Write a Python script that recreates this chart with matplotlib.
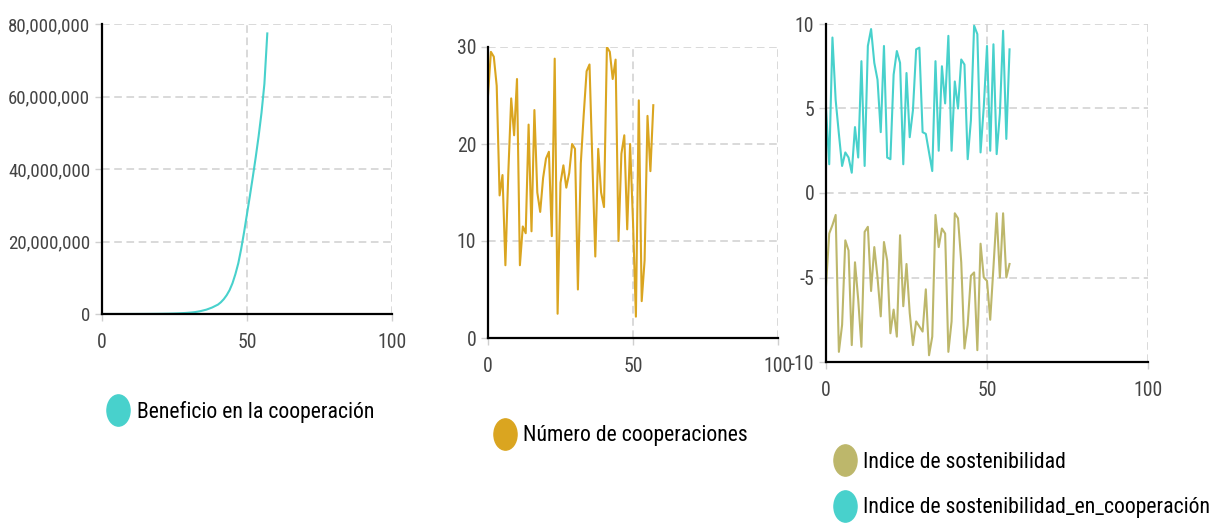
import numpy as np
import matplotlib
matplotlib.use("Agg")
import matplotlib.pyplot as plt
from matplotlib.lines import Line2D
from matplotlib.path import Path
from matplotlib.transforms import Affine2D
from matplotlib.ticker import FuncFormatter

plt.rcParams["font.family"] = ["Roboto Condensed", "Liberation Sans Narrow",
                               "Liberation Sans", "DejaVu Sans"]
plt.rcParams["axes.unicode_minus"] = False

# ── Datos de la simulación (58 pasos) ────────────────────────────────────────
pasos = np.arange(58)

# beneficio acumulado en millones
beneficio_mill = [
    0.001, 0.001, 0.002, 0.002, 0.003, 0.003, 0.004, 0.005, 0.006, 0.007,
    0.008, 0.010, 0.012, 0.015, 0.018, 0.022, 0.027, 0.033, 0.040, 0.048,
    0.058, 0.070, 0.085, 0.100, 0.120, 0.145, 0.175, 0.210, 0.250, 0.300,
    0.360, 0.430, 0.520, 0.650, 0.800, 1.000, 1.200, 1.500, 1.800, 2.200,
    2.600, 3.250, 4.100, 5.200, 6.600, 8.500, 11.00, 14.00, 18.00, 22.60,
    27.60, 32.60, 37.80, 43.20, 49.00, 55.50, 63.50, 77.40,
]

cooperaciones = [
    25.0, 29.5, 29.0, 26.0, 14.7, 16.8, 7.5, 17.0, 24.7, 20.9,
    26.7, 7.5, 11.5, 10.8, 22.0, 11.0, 23.5, 15.0, 13.0, 16.5,
    18.5, 19.2, 10.5, 28.8, 2.5, 16.0, 17.8, 15.5, 17.0, 20.0,
    19.5, 5.0, 18.0, 23.0, 27.5, 28.2, 18.0, 8.4, 19.5, 15.0,
    13.5, 30.0, 29.5, 26.7, 28.7, 10.0, 19.0, 20.9, 11.2, 20.0,
    12.0, 2.2, 24.5, 3.8, 8.0, 22.9, 17.2, 24.0,
]

sostenibilidad = [
    -5.5, -2.4, -1.9, -1.3, -9.4, -7.8, -2.8, -3.4, -9.0, -4.1,
    -6.3, -9.1, -2.3, -2.0, -5.8, -3.2, -5.0, -7.3, -2.9, -4.0,
    -8.3, -6.9, -8.5, -2.5, -6.7, -4.2, -7.1, -9.0, -7.6, -7.9,
    -8.2, -5.7, -9.6, -8.5, -1.3, -3.2, -2.1, -2.4, -9.4, -7.6,
    -1.2, -1.5, -4.1, -9.2, -7.8, -4.9, -4.7, -9.3, -3.0, -5.0,
    -5.2, -7.5, -4.4, -1.2, -5.0, -1.2, -5.0, -4.2,
]

sostenibilidad_coop = [
    5.0, 1.7, 9.2, 5.5, 3.5, 1.6, 2.4, 2.1, 1.2, 3.9,
    2.1, 7.8, 1.6, 8.7, 9.7, 7.7, 6.7, 3.6, 8.7, 2.1,
    2.0, 7.0, 8.4, 7.7, 1.7, 7.1, 3.3, 4.9, 8.5, 8.6,
    3.6, 3.5, 2.4, 1.3, 7.8, 2.5, 7.5, 5.3, 9.3, 2.5,
    6.6, 5.0, 7.9, 7.6, 2.0, 4.3, 9.9, 9.4, 2.4, 5.1,
    8.7, 2.5, 8.8, 2.3, 4.7, 9.6, 3.2, 8.5,
]

x_ticks = [0, 50, 100]
y_ticks_benef = [0, 20e6, 40e6, 60e6, 80e6]
y_ticks_coop = [0, 10, 20, 30]
y_ticks_sost = [-10, -5, 0, 5, 10]

COL_TEAL = "mediumturquoise"
COL_GOLD = "goldenrod"
COL_KHAKI = "darkkhaki"

# marcador de leyenda: elipse algo más alta que ancha
ELIPSE = Path.unit_circle().transformed(Affine2D().scale(0.74, 1.0))

W, H = 1222, 525
fig = plt.figure(figsize=(W / 100, H / 100), dpi=100)
fig.patch.set_facecolor("white")


def px_axes(x0, x1, y0, y1):
    """Axes a partir de coordenadas en píxeles (origen arriba a la izquierda)."""
    return fig.add_axes([x0 / W, 1 - y1 / H, (x1 - x0) / W, (y1 - y0) / H])


def estilo(ax, yticks):
    ax.set_xlim(0, 100)
    ax.set_ylim(yticks[0], yticks[-1])
    ax.set_xticks(x_ticks)
    ax.set_yticks(yticks)
    for s in ("top", "right"):
        ax.spines[s].set_visible(False)
    for s in ("left", "bottom"):
        ax.spines[s].set_linewidth(1.6)
        ax.spines[s].set_color("black")
    ax.grid(True, color="#cfcfcf", linestyle=(0, (5, 3)), linewidth=1.1)
    ax.set_axisbelow(True)
    ax.tick_params(length=5, width=1, color="#cfcfcf", labelcolor="#444444",
                   labelsize=14.2)
    ax.tick_params(axis="y", pad=3.5)
    ax.tick_params(axis="x", pad=9)


def leyenda(ax, colores, textos, x, y):
    handles = [Line2D([], [], linestyle="none", marker=ELIPSE, markersize=22.5,
                      color=c) for c in colores]
    ax.legend(handles, textos, loc="center left", bbox_to_anchor=(x / W, 1 - y / H),
              bbox_transform=fig.transFigure, frameon=False, fontsize=15.7,
              handlelength=1.0, handletextpad=0.34, borderpad=0, borderaxespad=0,
              labelspacing=1.12)


# ── Beneficio en la cooperación ──────────────────────────────────────────────
ax1 = px_axes(102, 392, 24, 314)
ax1.plot(pasos, np.array(beneficio_mill) * 1e6, color=COL_TEAL, lw=1.5)
estilo(ax1, y_ticks_benef)
ax1.yaxis.set_major_formatter(FuncFormatter(lambda v, _: f"{v:,.0f}"))
ax1.tick_params(axis="y", labelsize=13.6)
leyenda(ax1, [COL_TEAL], ["Beneficio en la cooperación"], 107.4, 412)

# ── Número de cooperaciones ──────────────────────────────────────────────────
ax2 = px_axes(488, 778, 47, 338)
ax2.plot(pasos, cooperaciones, color=COL_GOLD, lw=1.5)
estilo(ax2, y_ticks_coop)
leyenda(ax2, [COL_GOLD], ["Número de cooperaciones"], 493.8, 436)

# ── Índices de sostenibilidad ────────────────────────────────────────────────
ax3 = px_axes(826, 1148, 24, 362)
ax3.plot(pasos, sostenibilidad, color=COL_KHAKI, lw=1.5)
ax3.plot(pasos, sostenibilidad_coop, color=COL_TEAL, lw=1.5)
estilo(ax3, y_ticks_sost)
leyenda(ax3, [COL_KHAKI, COL_TEAL],
        ["Indice de sostenibilidad", "Indice de sostenibilidad_en_cooperación"],
        833.8, 485)

fig.savefig("out.png", dpi=100)
